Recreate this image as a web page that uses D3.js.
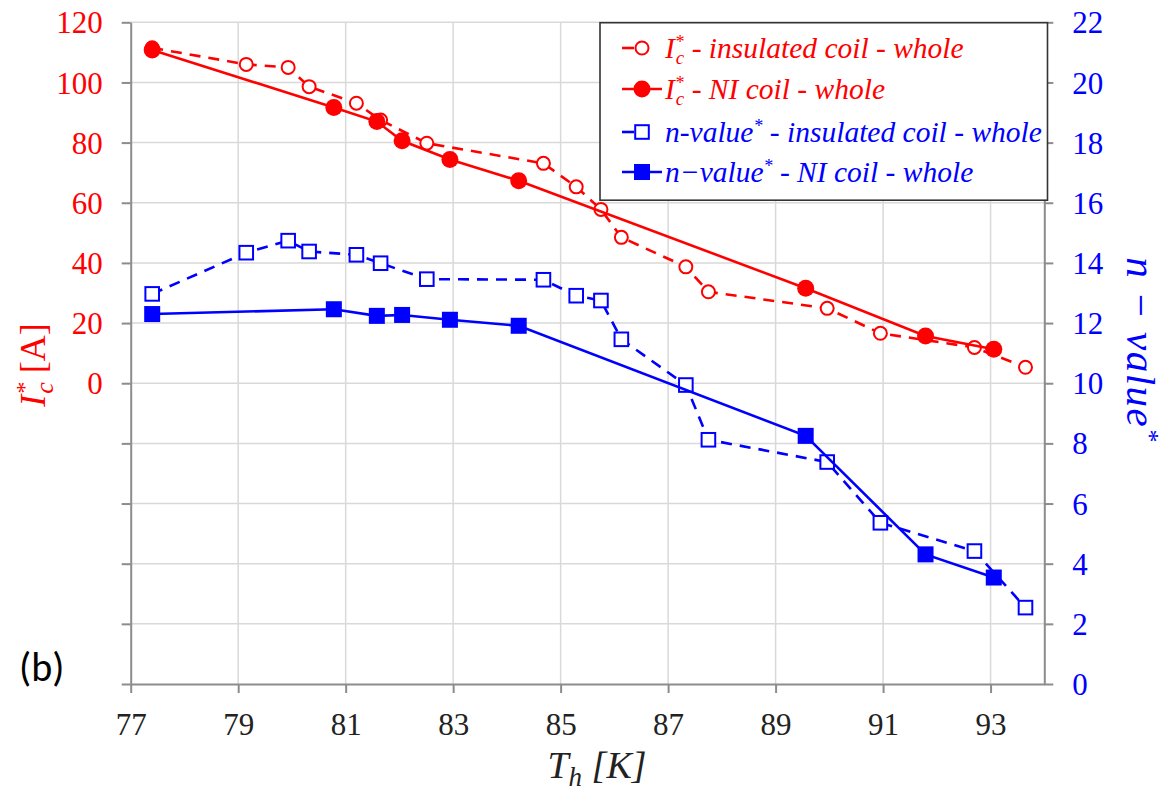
<!DOCTYPE html>
<html>
<head>
<meta charset="utf-8">
<script src="https://cdn.jsdelivr.net/npm/d3@7"></script>
<style>
  html, body { margin: 0; padding: 0; background: #fff; }
  svg { display: block; }
</style>
</head>
<body>
<svg id="chart" width="1165" height="794"></svg>
<script>
// ---------------- data ----------------
const T_ins   = [77.40, 79.15, 79.93, 80.32, 81.20, 81.65, 82.51, 84.68, 85.29, 85.75, 86.13, 87.33, 87.75, 89.96, 90.95, 92.70, 93.65];
const Ic_ins  = [111.5, 106.0, 105.0, 98.6, 93.1, 87.5, 79.8, 73.1, 65.3, 57.8, 48.5, 38.7, 30.4, 24.9, 16.6, 11.9, 5.3];
const n_ins   = [12.97, 14.34, 14.74, 14.38, 14.27, 13.99, 13.46, 13.44, 12.91, 12.75, 11.46, 9.94, 8.12, 7.38, 5.36, 4.42, 2.54];
const T_NI    = [77.40, 80.78, 81.58, 82.05, 82.94, 84.22, 89.56, 91.79, 93.06];
const Ic_NI   = [110.8, 91.7, 87.0, 80.6, 74.4, 67.3, 31.6, 15.7, 11.3];
const n_NI    = [12.30, 12.46, 12.24, 12.27, 12.11, 11.91, 8.25, 4.31, 3.54];
const xTicks  = [77, 79, 81, 83, 85, 87, 89, 91, 93];
const leftTicks  = [-100, -80, -60, -40, -20, 0, 20, 40, 60, 80, 100, 120];
const rightTicks = [0, 2, 4, 6, 8, 10, 12, 14, 16, 18, 20, 22];

const RED = "#ff0000", BLUE = "#0000ff";
const SERIF = "'Liberation Serif', 'Times New Roman', serif";
const svg = d3.select("#chart");

const L = 130.7, R = 1044.3, T = 22.3, B = 684;
const x  = d3.scaleLinear().domain([77, 94]).range([L, R]);
const yL = d3.scaleLinear().domain([-100, 120]).range([B, T]);
const yR = d3.scaleLinear().domain([0, 22]).range([B, T]);

// ---------------- grid ----------------
const grid = svg.append("g");
grid.selectAll("line.h").data(leftTicks.filter(v => v > -100)).join("line")
  .attr("x1", L).attr("x2", R).attr("y1", d => yL(d)).attr("y2", d => yL(d))
  .attr("stroke", "#d9d9d9").attr("stroke-width", 1.5);
grid.selectAll("line.v").data(xTicks.filter(v => v > 77)).join("line")
  .attr("x1", d => x(d)).attr("x2", d => x(d)).attr("y1", T).attr("y2", B)
  .attr("stroke", "#d9d9d9").attr("stroke-width", 1.5);

// ---------------- axes ----------------
function styleAxis(g) {
  g.select(".domain").attr("stroke", "#8c8c8c").attr("stroke-width", 2);
  g.selectAll(".tick line").attr("stroke", "#8c8c8c").attr("stroke-width", 2);
}
const xAxis = svg.append("g").attr("transform", `translate(0,${B})`)
  .call(d3.axisBottom(x).tickValues(xTicks).tickSize(9).tickSizeOuter(0).tickFormat(d3.format("d")));
styleAxis(xAxis);
xAxis.selectAll(".tick text").attr("y", 51).attr("dy", 0)
  .style("font-size", "31px").attr("fill", "#222").style("font-family", SERIF);

const lAxis = svg.append("g").attr("transform", `translate(${L},0)`)
  .call(d3.axisLeft(yL).tickValues(leftTicks).tickSize(9).tickSizeOuter(0)
    .tickFormat(d => d >= 0 ? d3.format("d")(d) : ""));
styleAxis(lAxis);
lAxis.selectAll(".tick text").attr("x", -28).attr("dy", "0.34em")
  .style("font-size", "31px").attr("fill", RED).style("font-family", SERIF);

const rAxis = svg.append("g").attr("transform", `translate(${R},0)`)
  .call(d3.axisRight(yR).tickValues(rightTicks).tickSize(9).tickSizeOuter(0).tickFormat(d3.format("d")));
styleAxis(rAxis);
rAxis.selectAll(".tick text").attr("x", 28).attr("dy", "0.34em")
  .style("font-size", "31px").attr("fill", BLUE).style("font-family", SERIF);

// ---------------- series ----------------
const plot = svg.append("g");
function series(xs, ys, yScale, color, dashed, marker) {
  const pts = xs.map((v, i) => [x(v), yScale(ys[i])]);
  plot.append("path").attr("d", d3.line()(pts)).attr("fill", "none")
    .attr("stroke", color).attr("stroke-width", 2.6)
    .attr("stroke-dasharray", dashed ? "11,8" : null);
  const g = plot.append("g");
  pts.forEach(p => drawMarker(g, p[0], p[1], color, marker));
}
function drawMarker(g, cx, cy, color, marker) {
  if (marker === "openCircle") {
    g.append("circle").attr("cx", cx).attr("cy", cy).attr("r", 6.5)
      .attr("fill", "#fff").attr("stroke", color).attr("stroke-width", 2);
  } else if (marker === "circle") {
    g.append("circle").attr("cx", cx).attr("cy", cy).attr("r", 8.5).attr("fill", color);
  } else if (marker === "openSquare") {
    g.append("rect").attr("x", cx - 6.8).attr("y", cy - 6.8).attr("width", 13.6).attr("height", 13.6)
      .attr("fill", "#fff").attr("stroke", color).attr("stroke-width", 2);
  } else if (marker === "square") {
    g.append("rect").attr("x", cx - 8).attr("y", cy - 8).attr("width", 16).attr("height", 16).attr("fill", color);
  }
}
series(T_ins, n_ins, yR, BLUE, true, "openSquare");
series(T_NI, n_NI, yR, BLUE, false, "square");
series(T_ins, Ic_ins, yL, RED, true, "openCircle");
series(T_NI, Ic_NI, yL, RED, false, "circle");

// ---------------- legend ----------------
const lg = svg.append("g");
lg.append("rect").attr("x", 600).attr("y", 22.7).attr("width", 447.5).attr("height", 177.5)
  .attr("fill", "#fff").attr("stroke", "#333").attr("stroke-width", 1.6);
const legendRows = [
  { y: 48,  color: RED,  marker: "openCircle", full: false, kind: "Ic", rest: " - insulated coil - whole" },
  { y: 89,  color: RED,  marker: "circle",     full: true,  kind: "Ic", rest: " - NI coil - whole" },
  { y: 132, color: BLUE, marker: "openSquare", full: false, kind: "n",  nlabel: "n-value", rest: " - insulated coil - whole" },
  { y: 172, color: BLUE, marker: "square",     full: true,  kind: "n",  nlabel: "n\u2212value", rest: " - NI coil - whole" }
];
legendRows.forEach(r => {
  lg.append("line").attr("x1", 622).attr("x2", r.full ? 662 : 634).attr("y1", r.y).attr("y2", r.y)
    .attr("stroke", r.color).attr("stroke-width", 2.6);
  drawMarker(lg, 642, r.y, r.color, r.marker);
  const t = lg.append("text").attr("x", 665).attr("y", r.y + 10)
    .style("font-family", SERIF).style("font-size", "29.5px")
    .style("font-style", "italic").attr("fill", r.color);
  if (r.kind === "Ic") {
    t.append("tspan").text("I");
    t.append("tspan").style("font-size", "18px").attr("dy", -10).text("*");
    t.append("tspan").style("font-size", "19px").attr("dx", -8).attr("dy", 16).text("c");
    t.append("tspan").attr("dy", -6).text(r.rest);
  } else {
    t.append("tspan").text(r.nlabel);
    t.append("tspan").style("font-size", "18px").attr("dy", -10).text("*");
    t.append("tspan").attr("dy", 10).text(r.rest);
  }
});

// ---------------- titles ----------------
const lt = svg.append("text").attr("transform", "translate(45,365) rotate(-90)")
  .attr("text-anchor", "middle").style("font-family", SERIF).style("font-size", "36px").attr("fill", RED);
lt.append("tspan").style("font-style", "italic").text("I");
lt.append("tspan").style("font-style", "italic").style("font-size", "24px").attr("dy", -13).text("*");
lt.append("tspan").style("font-style", "italic").style("font-size", "26px").attr("dx", -11).attr("dy", 21).text("c");
lt.append("tspan").attr("dy", -8).text(" [A]");

const rt = svg.append("text").attr("transform", "translate(1127,350) rotate(90)")
  .attr("text-anchor", "middle").style("font-family", SERIF).style("font-size", "41px")
  .style("letter-spacing", "1.5px").attr("fill", BLUE).style("font-style", "italic");
rt.append("tspan").text("n \u2212 value");
rt.append("tspan").style("font-size", "26px").attr("dy", -14).text("*");

const xt = svg.append("text").attr("x", 597).attr("y", 778)
  .attr("text-anchor", "middle").style("font-family", SERIF).style("font-size", "38px")
  .attr("fill", "#222").style("font-style", "italic");
xt.append("tspan").text("T");
xt.append("tspan").style("font-size", "27px").attr("dy", 8).text("h");
xt.append("tspan").attr("dy", -8).text(" [K]");

svg.append("text").attr("x", 19).attr("y", 681)
  .style("font-family", "Carlito, 'Open Sans', 'Liberation Sans', sans-serif").style("font-size", "40px")
  .attr("fill", "#000").text("(b)");
</script>
</body>
</html>
